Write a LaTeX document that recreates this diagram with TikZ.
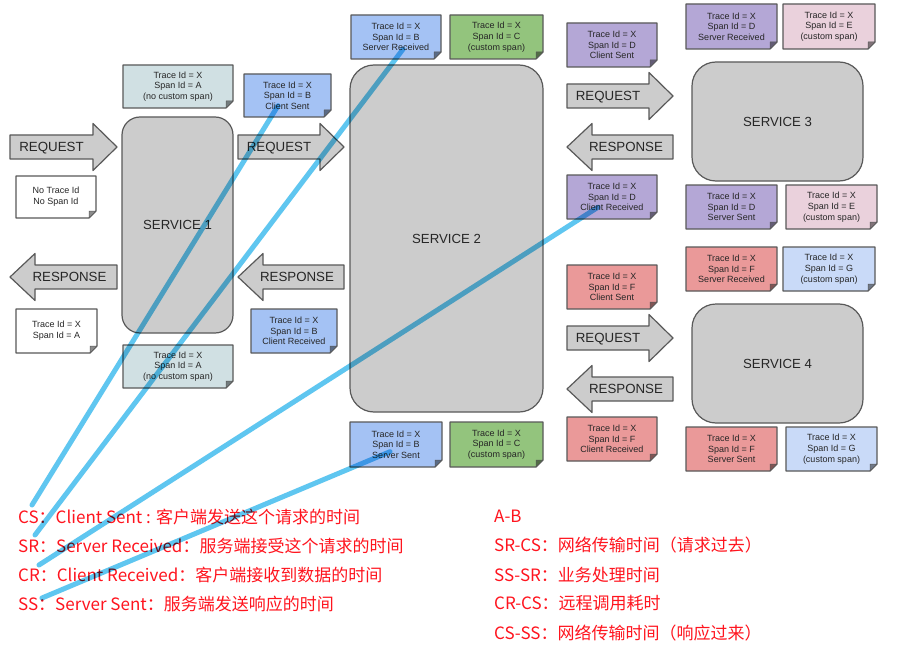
\documentclass[tikz,border=0pt]{standalone}
\usepackage{fontspec}
\setmainfont{Liberation Sans}
\newfontfamily\cjk{Noto Sans CJK SC}
\usetikzlibrary{calc}
\definecolor{edgegray}{RGB}{89, 89, 89}
\definecolor{boxgray}{RGB}{204, 204, 204}
\definecolor{tealnote}{HTML}{D0E0E3}
\definecolor{bluenote}{HTML}{A4C2F4}
\definecolor{greennote}{HTML}{93C47D}
\definecolor{purplenote}{HTML}{B4A7D6}
\definecolor{pinknote}{HTML}{EAD1DC}
\definecolor{rednote}{HTML}{EA9999}
\definecolor{skynote}{HTML}{C9DAF8}
\definecolor{legendred}{RGB}{255, 20, 30}
\definecolor{tiecyan}{RGB}{95, 198, 240}

% trace note: name, x1, y1, x2, y2, fill, text
\newcommand{\tracenote}[7]{%
  \draw[noteedge, fill=#6] (#2,#3) -- (#4,#3) -- (#4,#5-7) -- (#4-7,#5) -- (#2,#5) -- cycle;
  \draw[noteedge, fill=#6!55!black, line width=0.5pt] (#4,#5-7) -- (#4-7,#5-7) -- (#4-7,#5) -- cycle;
  \node[notetext] (#1) at ({(#2+#4)/2},{(#3+#5)/2}) {#7};}
% block arrows: name, x1, x2, y centre, text
\newcommand{\rightflow}[5]{%
  \draw[flow] (#2,#4-12) -- (#3-24,#4-12) -- (#3-24,#4-23.5) -- (#3,#4) -- (#3-24,#4+23.5) -- (#3-24,#4+12) -- (#2,#4+12) -- cycle;
  \node[flowtext] (#1) at ({(#2+#3-24)/2},#4) {#5};}
\newcommand{\leftflow}[5]{%
  \draw[flow] (#2,#4) -- (#2+25,#4-23.5) -- (#2+25,#4-12) -- (#3,#4-12) -- (#3,#4+12) -- (#2+25,#4+12) -- (#2+25,#4+23.5) -- cycle;
  \node[flowtext] (#1) at ({(#2+#3)/2+6},#4) {#5};}

\begin{document}
\begin{tikzpicture}[x=1pt, y=-1pt,
    noteedge/.style={draw=edgegray, line width=1.2pt, line join=round},
    notetext/.style={font=\fontsize{9}{10.7}\selectfont, align=center, text=black!85, inner sep=0pt},
    flow/.style={draw=edgegray, fill=boxgray, line width=1.2pt, line join=round},
    flowtext/.style={font=\fontsize{13.3}{14}\selectfont, text=black!85, inner sep=0pt, text height=9.6pt, text depth=0pt},
    service/.style={draw=edgegray, fill=boxgray, line width=1.2pt, rounded corners=24pt, font=\fontsize{13.2}{14}\selectfont, text=black!85},
    legend/.style={font=\cjk\fontsize{17}{17}\selectfont, text=legendred, anchor=west, inner sep=0pt},
    tie/.style={draw=tiecyan, line width=5pt, line cap=round}]
        \useasboundingbox (0,0) rectangle (915,658);
        \fill[white] (0,0) rectangle (915,658);

        % Services
        \node[service, rounded corners=18pt, minimum width=111pt, minimum height=216pt] (svc1) at (177.5,225) {SERVICE 1};
        \node[service, minimum width=193pt, minimum height=347pt] (svc2) at (446.5,238.5) {SERVICE 2};
        \node[service, minimum width=171pt, minimum height=119pt] (svc3) at (777.5,121.5) {SERVICE 3};
        \node[service, minimum width=171pt, minimum height=119pt] (svc4) at (777.5,363.5) {SERVICE 4};

        % Request / response arrows
        \rightflow{reqin}{10}{117}{147}{REQUEST}
        \leftflow{respout}{10}{117}{277}{RESPONSE}
        \rightflow{reqtwo}{238}{344}{147}{REQUEST}
        \leftflow{resptwo}{238}{344}{277}{RESPONSE}
        \rightflow{reqthree}{567}{673}{96}{REQUEST}
        \leftflow{respthree}{567}{673}{147}{RESPONSE}
        \rightflow{reqfour}{567}{673}{338}{REQUEST}
        \leftflow{respfour}{567}{673}{389}{RESPONSE}

        % Service 1 notes
        \tracenote{noid}{16}{176}{96}{218}{white}{No Trace Id\\No Span Id}
        \tracenote{idA}{16}{309}{97}{353}{white}{Trace Id = X\\Span Id = A}
        \tracenote{spanA}{123}{65}{233}{108}{tealnote}{Trace Id = X\\Span Id = A\\(no custom span)}
        \tracenote{spanAout}{123}{345}{233}{388}{tealnote}{Trace Id = X\\Span Id = A\\(no custom span)}
        \tracenote{csB}{244}{74}{331}{117}{bluenote}{Trace Id = X\\Span Id = B\\Client Sent}
        \tracenote{crB}{251}{309}{337}{353}{bluenote}{Trace Id = X\\Span Id = B\\Client Received}

        % Service 2 notes
        \tracenote{srB}{351}{15}{441}{59}{bluenote}{Trace Id = X\\Span Id = B\\Server Received}
        \tracenote{spanC}{450}{15}{543}{59}{greennote}{Trace Id = X\\Span Id = C\\(custom span)}
        \tracenote{ssB}{350}{422}{442}{467}{bluenote}{Trace Id = X\\Span Id = B\\Server Sent}
        \tracenote{spanCout}{450}{422}{543}{467}{greennote}{Trace Id = X\\Span Id = C\\(custom span)}
        \tracenote{csD}{567}{23}{657}{67}{purplenote}{Trace Id = X\\Span Id = D\\Client Sent}
        \tracenote{crD}{567}{175}{657}{219}{purplenote}{Trace Id = X\\Span Id = D\\Client Received}
        \tracenote{csF}{567}{265}{657}{309}{rednote}{Trace Id = X\\Span Id = F\\Client Sent}
        \tracenote{crF}{567}{417}{657}{461}{rednote}{Trace Id = X\\Span Id = F\\Client Received}

        % Service 3 and 4 notes
        \tracenote{srD}{686}{4}{777}{49}{purplenote}{Trace Id = X\\Span Id = D\\Server Received}
        \tracenote{spanE}{783}{4}{875}{49}{pinknote}{Trace Id = X\\Span Id = E\\(custom span)}
        \tracenote{ssD}{686}{185}{777}{229}{purplenote}{Trace Id = X\\Span Id = D\\Server Sent}
        \tracenote{spanEout}{786}{185}{877}{229}{pinknote}{Trace Id = X\\Span Id = E\\(custom span)}
        \tracenote{srF}{686}{247}{777}{291}{rednote}{Trace Id = X\\Span Id = F\\Server Received}
        \tracenote{spanG}{783}{247}{875}{291}{skynote}{Trace Id = X\\Span Id = G\\(custom span)}
        \tracenote{ssF}{686}{427}{777}{471}{rednote}{Trace Id = X\\Span Id = F\\Server Sent}
        \tracenote{spanGout}{786}{427}{877}{471}{skynote}{Trace Id = X\\Span Id = G\\(custom span)}

        % Legend
        \node[legend] (cs) at (18,517) {CS：Client Sent : 客户端发送这个请求的时间};
        \node[legend] (sr) at (18,546) {SR：Server Received：服务端接受这个请求的时间};
        \node[legend] (cr) at (18,575) {CR：Client Received：客户端接收到数据的时间};
        \node[legend] (ss) at (18,604) {SS：Server Sent：服务端发送响应的时间};
        \node[legend] (ab) at (494,516) {A-B};
        \node[legend] (srcs) at (494,545) {SR-CS：网络传输时间（请求过去）};
        \node[legend] (sssr) at (494,575) {SS-SR：业务处理时间};
        \node[legend] (crcs) at (494,603) {CR-CS：远程调用耗时};
        \node[legend] (csss) at (494,633) {CS-SS：网络传输时间（响应过来）};

        % Ties from notes to legend
        \begin{scope}[blend mode=multiply]
        \draw[tie] ($(csB.south)+(-9.5,-4)$) -- ($(cs.west)+(14,-12)$);
        \draw[tie] ($(srB.south)+(7,-2)$) -- ($(sr.west)+(17,-11)$);
        \draw[tie] ($(crD.south)+(-14,-4)$) -- ($(cr.west)+(21,-10)$);
        \draw[tie] ($(ssB.south)+(-6,-7)$) -- ($(ss.west)+(24,-6)$);
        \end{scope}
    \end{tikzpicture}
\end{document}
